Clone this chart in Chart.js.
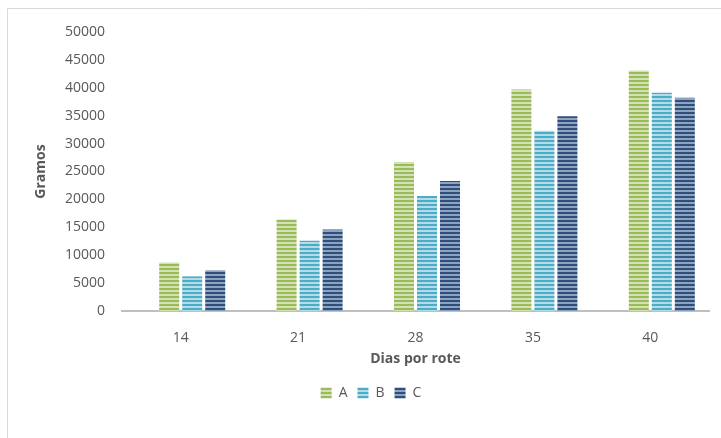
<!DOCTYPE html>
<html>
<head>
<meta charset="utf-8">
<script src="https://cdn.jsdelivr.net/npm/chart.js@4/dist/chart.umd.min.js"></script>
<style>
  html, body { margin: 0; padding: 0; background: #ffffff; }
  #wrap { width: 721px; height: 438px; position: relative; }
</style>
</head>
<body>
<div id="wrap"><canvas id="chart" width="721" height="438"></canvas></div>
<script>
// Days per batch (x categories)
const categories = ['14', '21', '28', '35', '40'];
// Weight in grams per group
const seriesA = [8700, 16400, 26700, 39700, 43100];
const seriesB = [6200, 12600, 20600, 32300, 39100];
const seriesC = [7300, 14600, 23300, 34900, 38200];
const seriesNames = ['A', 'B', 'C'];
const yTicks = [0, 5000, 10000, 15000, 20000, 25000, 30000, 35000, 40000, 45000, 50000];

// Horizontal striped fill: a solid band followed by a pale band
function stripes(dark, light) {
  const c = document.createElement('canvas');
  c.width = 8; c.height = 4;
  const g = c.getContext('2d');
  g.fillStyle = light; g.fillRect(0, 0, 8, 4);
  g.fillStyle = dark; g.fillRect(0, 0, 8, 2);
  return g.createPattern(c, 'repeat');
}
const ctx = document.getElementById('chart').getContext('2d');
const fills = [
  stripes('#9bbb59', '#d3e2b4'),
  stripes('#4bacc6', '#b3dce8'),
  stripes('#2e4f7c', '#8ea3c0')
];

// Light frame around the chart
const framePlugin = {
  id: 'frame',
  beforeDraw(chart) {
    const c = chart.ctx;
    c.save();
    c.strokeStyle = '#d9d9d9';
    c.lineWidth = 1;
    c.beginPath();
    c.moveTo(7.5, 438);
    c.lineTo(7.5, 8.5);
    c.lineTo(721, 8.5);
    c.stroke();
    c.restore();
  }
};

const font = "'Open Sans', 'DejaVu Sans', sans-serif";
const barStyle = { borderWidth: 0, categoryPercentage: 0.784, barPercentage: 0.87 };

// An empty leading slot keeps each cluster offset to the right of its label
const datasets = [{ label: '', data: categories.map(() => null), backgroundColor: 'rgba(0,0,0,0)', ...barStyle }]
  .concat([seriesA, seriesB, seriesC].map((d, i) => ({
    label: seriesNames[i],
    data: d,
    backgroundColor: fills[i],
    ...barStyle
  })));

new Chart(ctx, {
  type: 'bar',
  data: { labels: categories, datasets },
  options: {
    responsive: false,
    animation: false,
    layout: { padding: { left: 33, right: 12, top: 32, bottom: 28 } },
    plugins: {
      legend: {
        position: 'bottom',
        labels: {
          font: { family: font, size: 14 },
          color: '#595959',
          boxWidth: 11,
          boxHeight: 11,
          padding: 10,
          filter: item => item.text !== ''
        }
      },
      tooltip: { enabled: false }
    },
    scales: {
      x: {
        grid: { display: false, drawTicks: false },
        border: { display: true, color: '#bfbfbf', width: 2 },
        ticks: { font: { family: font, size: 14 }, color: '#595959', padding: 19 },
        title: {
          display: true, text: 'Dias por rote',
          font: { family: font, size: 14, weight: 'bold' }, color: '#595959',
          padding: { top: 4, bottom: 9 }
        },
        afterFit(s) { s.height = 65; }
      },
      y: {
        min: 0, max: 50000,
        afterBuildTicks(s) { s.ticks = yTicks.map(v => ({ value: v })); },
        grid: { display: false, drawTicks: false },
        border: { display: false },
        ticks: {
          font: { family: font, size: 14 }, color: '#595959', padding: 17,
          callback: v => String(v)
        },
        title: {
          display: true, text: 'Gramos',
          font: { family: font, size: 14, weight: 'bold' }, color: '#595959',
          padding: { top: 0, bottom: 0 }
        },
        afterFit(s) { s.width = 89; }
      }
    }
  },
  plugins: [framePlugin]
});
</script>
</body>
</html>
